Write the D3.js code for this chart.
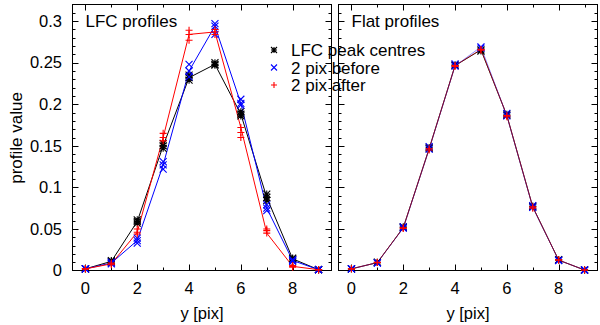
<!DOCTYPE html>
<html><head><meta charset="utf-8">
<script src="https://cdn.jsdelivr.net/npm/d3@7"></script>
<style>
body{margin:0;background:#fff}
svg{display:block}
text{font-family:"Liberation Sans",Arial,Helvetica,sans-serif;font-size:16.5px;fill:#000}
text.big{font-size:17px}
</style>
</head><body><svg id="c" width="600" height="325"></svg>
<script>
// ---------------- data ----------------
const pixels = [0, 1, 2, 3, 4, 5, 6, 7, 8, 9];
const xTickValues = [0, 2, 4, 6, 8];
const yTickValues = [0, 0.05, 0.1, 0.15, 0.2, 0.25, 0.3];
const yTickLabels = ["0", "0.05", "0.1", "0.15", "0.2", "0.25", "0.3"];
const panelTitles = ["LFC profiles", "Flat profiles"];
const seriesNames = ["LFC peak centres", "2 pix before", "2 pix after"];
const xAxisTitle = "y [pix]";
const yAxisTitle = "profile value";

// LFC profiles (left panel): several profiles per series
const lfcPeakLFC = [
  [0.002, 0.011, 0.059, 0.150, 0.232, 0.248, 0.188, 0.088, 0.014, 0.001],
  [0.002, 0.010, 0.057, 0.147, 0.229, 0.250, 0.186, 0.092, 0.015, 0.001],
  [0.002, 0.012, 0.061, 0.153, 0.235, 0.247, 0.191, 0.084, 0.013, 0.001]
];
const beforeLFC = [
  [0.002, 0.009, 0.036, 0.127, 0.240, 0.294, 0.201, 0.075, 0.012, 0.001],
  [0.002, 0.008, 0.033, 0.122, 0.248, 0.297, 0.206, 0.072, 0.011, 0.001],
  [0.002, 0.010, 0.039, 0.131, 0.233, 0.284, 0.199, 0.079, 0.013, 0.001]
];
const afterLFC = [
  [0.002, 0.008, 0.046, 0.160, 0.284, 0.287, 0.172, 0.045, 0.005, 0.001],
  [0.002, 0.007, 0.044, 0.156, 0.277, 0.284, 0.160, 0.050, 0.004, 0.001],
  [0.002, 0.009, 0.050, 0.165, 0.289, 0.290, 0.166, 0.048, 0.006, 0.001]
];
// Flat profiles (right panel)
const lfcPeakFlat = [
  [0.002, 0.0095, 0.0515, 0.1465, 0.2465, 0.2655, 0.1865, 0.0765, 0.0125, 0.0006],
  [0.002, 0.0100, 0.0525, 0.1480, 0.2475, 0.2640, 0.1880, 0.0775, 0.0130, 0.0006]
];
const beforeFlat = [
  [0.002, 0.0095, 0.0510, 0.1460, 0.2460, 0.2690, 0.1860, 0.0760, 0.0125, 0.0006],
  [0.002, 0.0090, 0.0525, 0.1490, 0.2485, 0.2675, 0.1890, 0.0780, 0.0120, 0.0006]
];
const afterFlat = [
  [0.002, 0.0095, 0.0515, 0.1465, 0.2465, 0.2660, 0.1865, 0.0765, 0.0125, 0.0006],
  [0.002, 0.0100, 0.0505, 0.1450, 0.2455, 0.2650, 0.1850, 0.0750, 0.0130, 0.0006]
];

// ---------------- drawing ----------------
const svg = d3.select("#c");
const colors = ["#000000", "#0000ff", "#ff0000"];
const markerKinds = ["star", "cross", "plus"];

const y = d3.scaleLinear().domain([0, 0.32]).range([270.5, 4.5]);
const panels = [
  {x0: 72.5, x1: 331.5, title: panelTitles[0], data: [lfcPeakLFC, beforeLFC, afterLFC], lineOpacity: [1, 1, 1], labels: true},
  {x0: 338.5, x1: 597.5, title: panelTitles[1], data: [lfcPeakFlat, beforeFlat, afterFlat], lineOpacity: [1, 0.45, 0.5], labels: false}
];

function marker(g, kind, cx, cy, color, s) {
  const p = d3.path();
  if (kind === "plus" || kind === "star") {
    p.moveTo(cx - s, cy); p.lineTo(cx + s, cy);
    p.moveTo(cx, cy - s); p.lineTo(cx, cy + s);
  }
  if (kind === "cross" || kind === "star") {
    p.moveTo(cx - s, cy - s); p.lineTo(cx + s, cy + s);
    p.moveTo(cx - s, cy + s); p.lineTo(cx + s, cy - s);
  }
  g.append("path").attr("d", p.toString()).attr("stroke", color).attr("stroke-width", 1.1).attr("fill", "none");
}

panels.forEach(pn => {
  const x = d3.scaleLinear().domain([-0.5, 9.5]).range([pn.x0, pn.x1]);
  const g = svg.append("g");

  // ticks (gnuplot style: inside, mirrored)
  const yMinor = d3.range(0, 0.3201, 0.01);
  yMinor.forEach(v => {
    const isMajor = Math.abs(Math.round(v * 100) % 5) === 0;
    const len = isMajor ? 6 : 3;
    const yy = Math.round(y(v)) + 0.5;
    if (v > 0.3195 || v < 0.0001) return;
    g.append("line").attr("x1", pn.x0).attr("x2", pn.x0 + len).attr("y1", yy).attr("y2", yy).attr("stroke", "#000");
    g.append("line").attr("x1", pn.x1).attr("x2", pn.x1 - len).attr("y1", yy).attr("y2", yy).attr("stroke", "#000");
  });
  pixels.forEach(v => {
    const isMajor = xTickValues.includes(v);
    const len = isMajor ? 6 : 3;
    const xx = Math.round(x(v)) + 0.5;
    g.append("line").attr("x1", xx).attr("x2", xx).attr("y1", y(0)).attr("y2", y(0) - len).attr("stroke", "#000");
    g.append("line").attr("x1", xx).attr("x2", xx).attr("y1", y(0.32)).attr("y2", y(0.32) + len).attr("stroke", "#000");
  });

  // frame
  g.append("rect").attr("x", pn.x0).attr("y", y(0.32)).attr("width", pn.x1 - pn.x0).attr("height", y(0) - y(0.32))
    .attr("fill", "none").attr("stroke", "#000").attr("stroke-width", 1);

  // x tick labels
  xTickValues.forEach(v => {
    g.append("text").attr("x", x(v)).attr("y", 294).attr("text-anchor", "middle").text(v);
  });
  g.append("text").attr("x", (pn.x0 + pn.x1) / 2).attr("y", 319).attr("text-anchor", "middle").text(xAxisTitle);

  if (pn.labels) {
    yTickValues.forEach((v, i) => {
      g.append("text").attr("x", 62).attr("y", y(v) + 5.8).attr("text-anchor", "end").text(yTickLabels[i]);
    });
    g.append("text").attr("class", "big").attr("transform", `translate(22,138) rotate(-90)`).attr("text-anchor", "middle").text(yAxisTitle);
  }

  g.append("text").attr("class", "big").attr("x", pn.x0 + 13).attr("y", 26.5).text(pn.title);

  // series
  const line = d3.line().x((d, i) => x(pixels[i])).y(d => y(d));
  pn.data.forEach((profiles, si) => {
    g.append("path").attr("d", line(profiles[0])).attr("fill", "none")
      .attr("stroke", colors[si]).attr("stroke-width", 1).attr("stroke-opacity", pn.lineOpacity[si]);
  });
  pn.data.forEach((profiles, si) => {
    profiles.forEach(prof => {
      prof.forEach((v, i) => marker(g, markerKinds[si], x(pixels[i]), y(v), colors[si], 3.5));
    });
  });
});

// legend
seriesNames.forEach((name, i) => {
  const cy = 50 + i * 17.5;
  marker(svg, markerKinds[i], 274, cy, colors[i], 3);
  svg.append("text").attr("class", "big").attr("x", 291).attr("y", cy + 6).text(name);
});
</script>
</body></html>
